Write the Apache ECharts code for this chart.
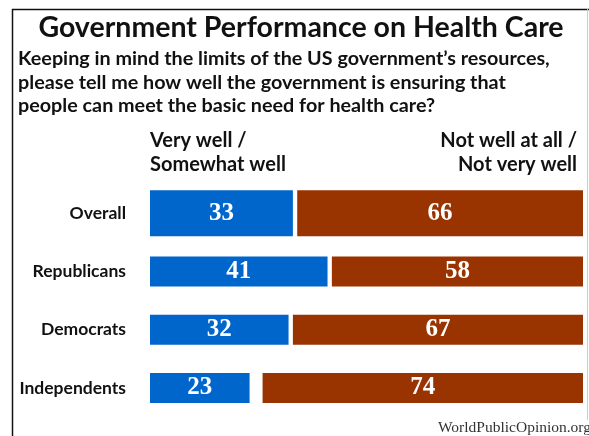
<!DOCTYPE html>
<html>
<head>
<meta charset="utf-8">
<script src="https://cdn.jsdelivr.net/npm/echarts@6/dist/echarts.min.js"></script>
<style>
  html, body { margin: 0; padding: 0; background: #ffffff; }
  #chart { width: 589px; height: 436px; }
</style>
</head>
<body>
<div id="chart"></div>
<script>
// ---- Data ----
var categories = ['Overall', 'Republicans', 'Democrats', 'Independents'];
var veryWell = [33, 41, 32, 23];      // Very well / Somewhat well
var notWell = [66, 58, 67, 74];       // Not well at all / Not very well
var headerLeft = 'Very well /\nSomewhat well';
var headerRight = 'Not well at all /\nNot very well';
var titleText = 'Government Performance on Health Care';
var subtitleText = 'Keeping in mind the limits of the US government\u2019s resources,\nplease tell me how well the government is ensuring that\npeople can meet the basic need for health care?';
var sourceText = 'WorldPublicOpinion.org';

var BLUE = '#0066cc';
var RED = '#993300';
var INK = '#111111';
var SANS = 'Lato, "Open Sans", sans-serif';
var SERIF = '"Liberation Serif", "DejaVu Serif", serif';

// remainder (don't know / no answer) that separates the two bars
var rest = veryWell.map(function (v, i) { return 100 - v - notWell[i]; });

function pick(arr, keepFirst) {
  return arr.map(function (v, i) { return (i === 0) === keepFirst ? v : '-'; });
}

var valueLabel = {
  show: true,
  position: 'inside',
  color: '#ffffff',
  fontFamily: SERIF,
  fontWeight: 'bold',
  fontSize: 25
};

function makeSeries(axisIndex, keepFirst, width) {
  var stackId = 's' + axisIndex;
  return [
    {
      type: 'bar', yAxisIndex: axisIndex, stack: stackId, barWidth: width,
      data: pick(veryWell, keepFirst),
      itemStyle: { color: BLUE },
      label: valueLabel,
      silent: true
    },
    {
      type: 'bar', yAxisIndex: axisIndex, stack: stackId, barWidth: width,
      data: pick(rest, keepFirst),
      itemStyle: { color: 'rgba(0,0,0,0)' },
      label: { show: false },
      silent: true
    },
    {
      type: 'bar', yAxisIndex: axisIndex, stack: stackId, barWidth: width,
      data: pick(notWell, keepFirst),
      itemStyle: { color: RED },
      label: valueLabel,
      silent: true
    }
  ];
}

function txt(text, x, y, size, align, family, weight, lineHeight, color) {
  return {
    type: 'text', silent: true,
    style: {
      text: text, x: x, y: y,
      fontFamily: family, fontWeight: weight, fontSize: size,
      lineHeight: lineHeight || size,
      fill: color || INK,
      textAlign: align, textVerticalAlign: 'top'
    }
  };
}

var chart = echarts.init(document.getElementById('chart'), null, { renderer: 'canvas' });

chart.setOption({
  backgroundColor: '#ffffff',
  animation: false,
  grid: { left: 150, right: 6, top: 184, bottom: 19, containLabel: false },
  xAxis: {
    type: 'value', min: 0, max: 100,
    show: false
  },
  yAxis: [
    {
      type: 'category', data: categories, inverse: true,
      axisLine: { show: false }, axisTick: { show: false },
      axisLabel: {
        margin: 24, color: INK, fontFamily: SANS, fontWeight: 'bold', fontSize: 17.5
      }
    },
    {
      type: 'category', data: categories, inverse: true, show: false
    }
  ],
  series: makeSeries(0, false, 30).concat(makeSeries(1, true, 46)),
  graphic: [
    { type: 'line', shape: { x1: 12.5, y1: 9, x2: 12.5, y2: 436 }, style: { stroke: INK, lineWidth: 1.5 }, silent: true },
    { type: 'line', shape: { x1: 12, y1: 9.5, x2: 589, y2: 9.5 }, style: { stroke: INK, lineWidth: 1.5 }, silent: true },
    { type: 'line', shape: { x1: 587.5, y1: 9, x2: 587.5, y2: 420 }, style: { stroke: '#cccccc', lineWidth: 1 }, silent: true },
    txt(titleText, 301, 12, 28.5, 'center', SANS, 'bold', 31),
    txt(subtitleText, 18, 47, 19.75, 'left', SANS, 'bold', 23.5),
    txt(headerLeft, 150, 129, 20, 'left', SANS, 'bold', 24),
    txt(headerRight, 577, 129, 20, 'right', SANS, 'bold', 24),
    txt(sourceText, 591, 420, 15.5, 'right', SERIF, 'normal', 15.5, '#333333')
  ]
});
</script>
</body>
</html>
